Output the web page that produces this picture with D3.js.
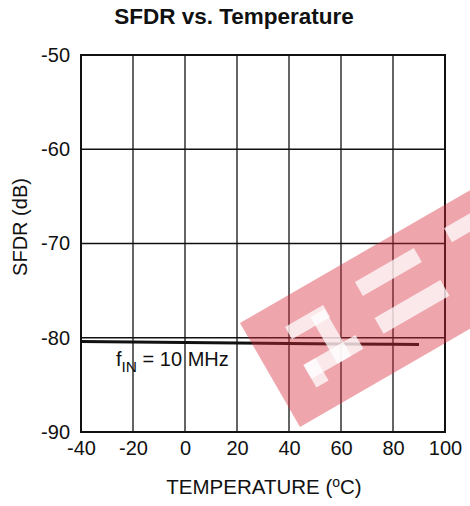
<!DOCTYPE html>
<html><head><meta charset="utf-8">
<script src="https://cdn.jsdelivr.net/npm/d3@7"></script>
<style>
body{margin:0;background:#fff;}
text{font-family:"Liberation Sans",Arial,Helvetica,sans-serif;fill:#111;}
</style></head>
<body><svg id="c" width="470" height="506"></svg>
<script>
const temps = [-40, -20, 0, 20, 40, 60, 80, 90];
const sfdr = [-80.4, -80.45, -80.5, -80.55, -80.6, -80.65, -80.7, -80.72];
const xTicks = [-40, -20, 0, 20, 40, 60, 80, 100];
const yTicks = [-50, -60, -70, -80, -90];
const title = "SFDR vs. Temperature";
const seriesLabel = "10 MHz";

const svg = d3.select("#c");
const L = 81, R = 445, T = 55, B = 432;
const x = d3.scaleLinear().domain([-40, 100]).range([L, R]);
const y = d3.scaleLinear().domain([-90, -50]).range([B, T]);

svg.append("text").attr("x", 234).attr("y", 24).attr("text-anchor", "middle")
  .style("font-weight", "bold").style("font-size", "22.5px").text(title);

// grid
const g = svg.append("g");
g.selectAll("line.v").data(xTicks).join("line")
  .attr("x1", d => x(d)).attr("x2", d => x(d)).attr("y1", T).attr("y2", B)
  .attr("stroke", "#111").attr("stroke-width", 1.3);
g.selectAll("line.h").data(yTicks).join("line")
  .attr("y1", d => y(d)).attr("y2", d => y(d)).attr("x1", L).attr("x2", R)
  .attr("stroke", "#111").attr("stroke-width", 1.3);
g.append("rect").attr("x", L).attr("y", T).attr("width", R - L).attr("height", B - T)
  .attr("fill", "none").attr("stroke", "#111").attr("stroke-width", 2);

const fmt = d => String(d);
const xa = svg.append("g").attr("transform", `translate(0,${B})`)
  .call(d3.axisBottom(x).tickValues(xTicks).tickSize(0).tickPadding(9).tickFormat(fmt));
xa.select(".domain").remove();
xa.selectAll("text").style("font-size", "20px").attr("fill", "#111")
  .style("font-family", '"Liberation Sans",Arial,sans-serif');
const ya = svg.append("g").attr("transform", `translate(${L},0)`)
  .call(d3.axisLeft(y).tickValues(yTicks).tickSize(0).tickPadding(11).tickFormat(fmt));
ya.select(".domain").remove();
ya.selectAll("text").style("font-size", "20px").attr("fill", "#111")
  .style("font-family", '"Liberation Sans",Arial,sans-serif');

// axis titles
const xt = svg.append("text").attr("x", 264).attr("y", 494).attr("text-anchor", "middle")
  .style("font-size", "20.5px");
xt.append("tspan").text("TEMPERATURE (");
xt.append("tspan").attr("dy", -7).style("font-size", "14px").text("o");
xt.append("tspan").attr("dy", 7).text("C)");
svg.append("text").attr("transform", "translate(27,227) rotate(-90)").attr("text-anchor", "middle")
  .style("font-size", "20px").text("SFDR (dB)");

// data line
svg.append("path").datum(temps.map((t, i) => [t, sfdr[i]]))
  .attr("d", d3.line().x(d => x(d[0])).y(d => y(d[1])))
  .attr("fill", "none").attr("stroke", "#111").attr("stroke-width", 3);

// series label
const lab = svg.append("text").attr("x", 116).attr("y", 366).style("font-size", "20px");
lab.append("tspan").text("f");
lab.append("tspan").attr("dy", 6).style("font-size", "15.5px").text("IN");
lab.append("tspan").attr("dy", -6).text(" = " + seriesLabel);

// watermark
const wm = svg.append("g").attr("transform", "translate(240,323) rotate(-30)");
wm.append("rect").attr("x", 0).attr("y", 0).attr("width", 320).attr("height", 120)
  .attr("fill", "rgb(214,40,57)").attr("opacity", 0.42);
const glyphs = [[37, 26, 44, 14], [64, 30, 16, 54], [34, 68, 60, 16], [34, 68, 14, 26],
  [120, 22, 68, 16], [119, 63, 76, 18], [224, 20, 44, 16]];
wm.selectAll("rect.gl").data(glyphs).join("rect")
  .attr("x", d => d[0]).attr("y", d => d[1]).attr("width", d => d[2]).attr("height", d => d[3])
  .attr("fill", "#fff").attr("opacity", 0.75);
</script></body></html>
